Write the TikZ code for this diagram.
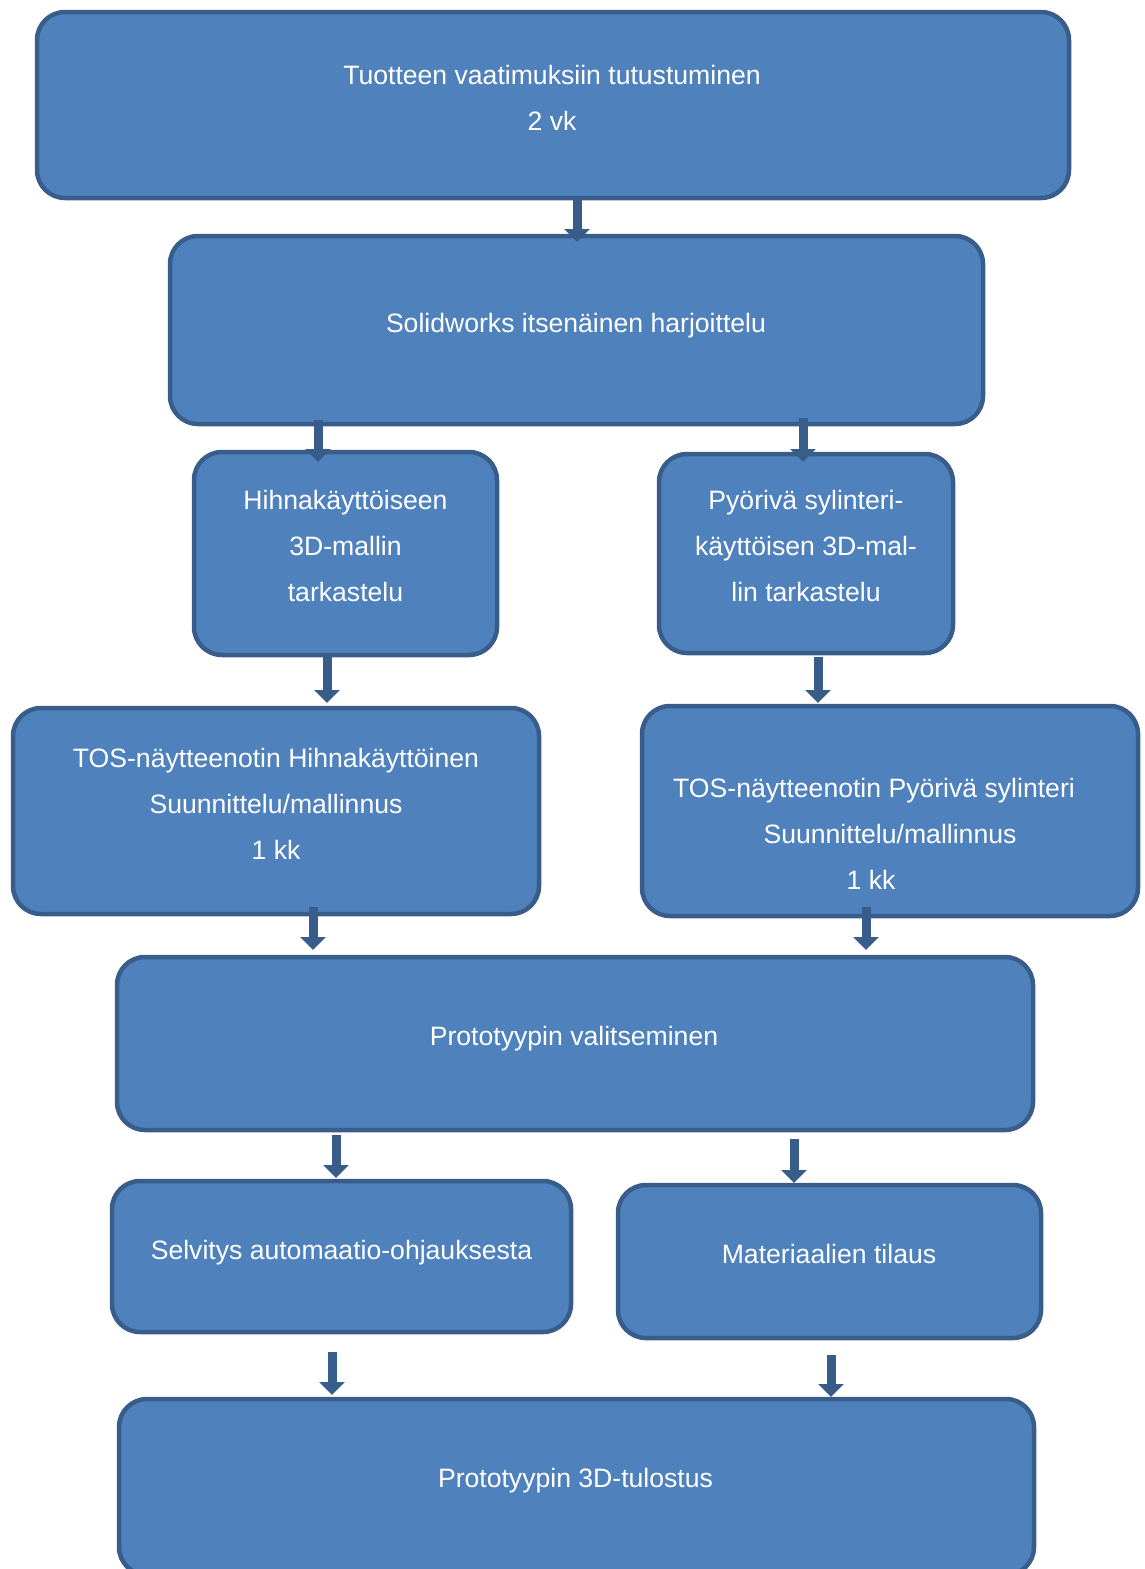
\documentclass[tikz,border=0pt]{standalone}
\usepackage{fontspec}
\setmainfont{Liberation Sans}
\usetikzlibrary{arrows.meta}
\definecolor{boxfill}{HTML}{4F81BD}
\definecolor{boxline}{HTML}{385D8A}
\tikzset{
  box/.style={draw=boxline, fill=boxfill, line width=4.5pt, rounded corners=28pt, anchor=north west, inner sep=0pt, outer sep=0pt},
  txt/.style={text=white, anchor=base, inner sep=0pt, font=\fontsize{26.6}{46}\selectfont},
  arr/.style={draw=boxline, line width=9pt, -{Triangle[width=25pt,length=13pt]}}
}
\begin{document}
\begin{tikzpicture}[x=1pt,y=-1pt]
\useasboundingbox (0,0) rectangle (1144,1569);
% boxes
\node[box, minimum width=1032pt, minimum height=186pt] (b1) at (37,12) {};
\node[box, minimum width=813pt, minimum height=188pt] (b2) at (170,236) {};
\node[box, minimum width=303pt, minimum height=203pt] (b3) at (194,452) {};
\node[box, minimum width=294pt, minimum height=199pt] (b4) at (659,454) {};
\node[box, minimum width=526pt, minimum height=206pt] (b5) at (13,708) {};
\node[box, minimum width=496pt, minimum height=210pt] (b6) at (642,706) {};
\node[box, minimum width=916pt, minimum height=173pt] (b7) at (117,957) {};
\node[box, minimum width=459pt, minimum height=151pt] (b8) at (112,1181) {};
\node[box, minimum width=423pt, minimum height=153pt] (b9) at (618,1185) {};
\node[box, minimum width=915pt, minimum height=176pt] (b10) at (119,1399) {};
% texts
\node[txt] (t1a) at (552,84) {Tuotteen vaatimuksiin tutustuminen};
\node[txt] (t1b) at (552,130) {2 vk};
\node[txt] (t2) at (576,332) {Solidworks itsenäinen harjoittelu};
\node[txt] (t3a) at (345.5,509) {Hihnakäyttöiseen};
\node[txt] (t3b) at (345.5,555) {3D-mallin};
\node[txt] (t3c) at (345.5,601) {tarkastelu};
\node[txt] (t4a) at (806,509) {Pyörivä sylinteri-};
\node[txt] (t4b) at (806,555) {käyttöisen 3D-mal-};
\node[txt] (t4c) at (806,601) {lin tarkastelu};
\node[txt] (t5a) at (276,767) {TOS-näytteenotin Hihnakäyttöinen};
\node[txt] (t5b) at (276,813) {Suunnittelu/mallinnus};
\node[txt] (t5c) at (276,859) {1 kk};
\node[txt] (t6a) at (874,797) {TOS-näytteenotin Pyörivä sylinteri};
\node[txt] (t6b) at (890,843) {Suunnittelu/mallinnus};
\node[txt] (t6c) at (871,889) {1 kk};
\node[txt] (t7) at (574,1045) {Prototyypin valitseminen};
\node[txt] (t8) at (341.5,1259) {Selvitys automaatio-ohjauksesta};
\node[txt] (t9) at (829,1263) {Materiaalien tilaus};
\node[txt] (t10) at (575.5,1487) {Prototyypin 3D-tulostus};
% arrows
\draw[arr, shorten >=-6pt] (577,0 |- b1.south) -- (577,0 |- b2.north);
\draw[arr, shorten <=-4pt, shorten >=-10pt] (318,0 |- b2.south) -- (318,0 |- b3.north);
\draw[arr, shorten <=-6pt, shorten >=-8pt] (803,0 |- b2.south) -- (803,0 |- b4.north);
\draw[arr, shorten <=2pt, shorten >=5pt] (327,0 |- b3.south) -- (327,0 |- b5.north);
\draw[arr, shorten <=4pt, shorten >=3pt] (818,0 |- b4.south) -- (818,0 |- b6.north);
\draw[arr, shorten <=-7pt, shorten >=7pt] (313,0 |- b5.south) -- (313,0 |- b7.north);
\draw[arr, shorten <=-9pt, shorten >=7pt] (866,0 |- b6.south) -- (866,0 |- b7.north);
\draw[arr, shorten <=5pt, shorten >=3pt] (336,0 |- b7.south) -- (336,0 |- b8.north);
\draw[arr, shorten <=9pt, shorten >=2pt] (794,0 |- b7.south) -- (794,0 |- b9.north);
\draw[arr, shorten <=20pt, shorten >=4pt] (332,0 |- b8.south) -- (332,0 |- b10.north);
\draw[arr, shorten <=17pt, shorten >=2pt] (831,0 |- b9.south) -- (831,0 |- b10.north);
\end{tikzpicture}
\end{document}
